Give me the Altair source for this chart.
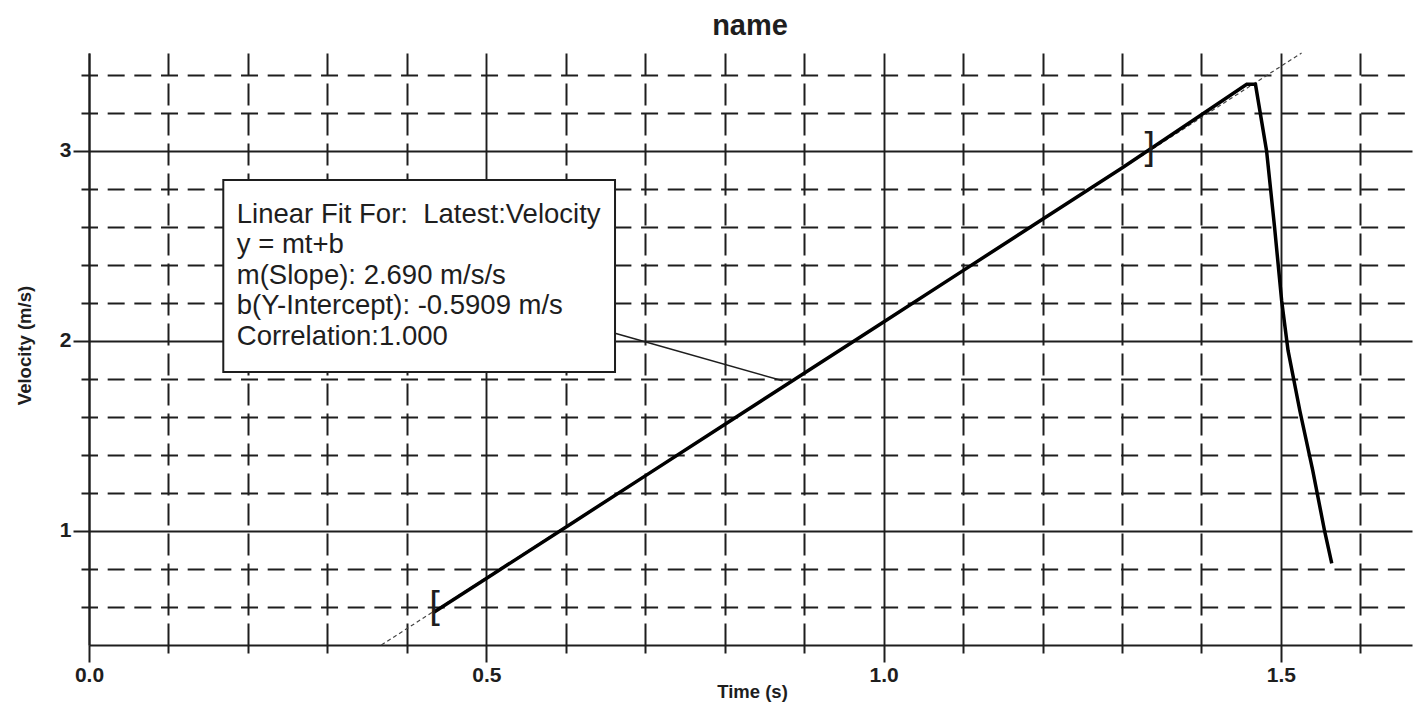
import altair as alt
import pandas as pd

FONT = "Liberation Sans"
INK = "#1e1e1e"

# ---- data ----
major_t = [0.0, 0.5, 1.0, 1.5]
minor_t = [0.1, 0.2, 0.3, 0.4, 0.6, 0.7, 0.8, 0.9, 1.1, 1.2, 1.3, 1.4, 1.6]
major_v = [1, 2, 3]
minor_v = [0.6, 0.8, 1.2, 1.4, 1.6, 1.8, 2.2, 2.4, 2.6, 2.8, 3.2, 3.4]

vel_t = [0.433, 0.5, 0.6, 0.7, 0.8, 0.9, 1.0, 1.1, 1.2, 1.3, 1.4, 1.457, 1.468,
         1.482, 1.492, 1.501, 1.509, 1.524, 1.540, 1.555, 1.564]
vel_v = [0.57, 0.75, 1.02, 1.29, 1.56, 1.83, 2.10, 2.37, 2.64, 2.91, 3.19, 3.35, 3.35,
         3.00, 2.60, 2.21, 1.95, 1.63, 1.32, 1.00, 0.83]

fit_t = [0.368, 1.526]
fit_v = [0.40, 3.515]

bracket_t = [0.435, 1.335]
bracket_v = [0.60, 3.015]
bracket_sym = ["[", "]"]

chart_title = "name"
fit_lines = [
    "Linear Fit For:\u00a0 Latest:Velocity",
    "y = mt+b",
    "m(Slope): 2.690 m/s/s",
    "b(Y-Intercept): -0.5909 m/s",
    "Correlation:1.000",
]

vel_df = pd.DataFrame({"t": vel_t, "v": vel_v})
fit_df = pd.DataFrame({"t": fit_t, "v": fit_v})
br_df = pd.DataFrame({"t": bracket_t, "v": bracket_v, "s": bracket_sym})
one = pd.DataFrame({"k": [0]})

W, H = 1323, 592
xs = alt.Scale(domain=[0, 1.665], nice=False, zero=False)
ys = alt.Scale(domain=[0.4, 3.515], nice=False, zero=False)

minor_x = alt.Axis(orient="bottom", values=minor_t, grid=True, gridDash=[22, 8],
                   gridColor=INK, gridWidth=2, ticks=True, tickSize=8, tickColor=INK,
                   tickWidth=2, labels=False, domain=False)
major_x = alt.Axis(orient="bottom", values=major_t, grid=True, gridColor=INK, gridWidth=1.9,
                   ticks=True, tickSize=17, tickColor=INK, tickWidth=2, labels=True,
                   labelFlush=False, format=".1f", labelFont=FONT, labelFontSize=21,
                   labelFontWeight="bold", labelColor=INK, labelPadding=2, domain=True,
                   domainColor=INK, domainWidth=2, titleFont=FONT, titleFontSize=18.5,
                   titleFontWeight="bold", titleColor=INK, titleX=663, titleY=46,
                   titleAlign="center", titleBaseline="middle")
minor_y = alt.Axis(orient="left", values=minor_v, grid=True, gridDash=[17, 9.67],
                   gridDashOffset=8.5, gridColor=INK, gridWidth=2, ticks=True, tickSize=8,
                   tickColor=INK, tickWidth=2, labels=False, domain=False)
major_y = alt.Axis(orient="left", values=major_v, grid=True, gridColor=INK, gridWidth=1.9,
                   ticks=True, tickSize=16, tickColor=INK, tickWidth=2, labels=True,
                   labelFlush=False, format="d", labelFont=FONT, labelFontSize=21,
                   labelFontWeight="bold", labelColor=INK, labelPadding=2, domain=True,
                   domainColor=INK, domainWidth=2, titleFont=FONT, titleFontSize=18.5,
                   titleFontWeight="bold", titleColor=INK, titleX=-65, titleY=292,
                   titleAngle=270, titleAlign="center", titleBaseline="middle")

fit = alt.Chart(fit_df).mark_line(color="#444", strokeWidth=1.2, strokeDash=[4, 3]).encode(
    x=alt.X("t:Q", scale=xs, axis=minor_x, title=None),
    y=alt.Y("v:Q", scale=ys, axis=minor_y, title=None),
)

vel = alt.Chart(vel_df).mark_line(color="black", strokeWidth=3.5).encode(
    x=alt.X("t:Q", scale=xs, axis=major_x, title="Time (s)"),
    y=alt.Y("v:Q", scale=ys, axis=major_y, title="Velocity (m/s)"),
)

connector = alt.Chart(one).mark_rule(color=INK, strokeWidth=1.6).encode(
    x=alt.XDatum(0.662, scale=xs, axis=None),
    x2=alt.X2Datum(0.873),
    y=alt.YDatum(2.04, scale=ys, axis=None),
    y2=alt.Y2Datum(1.79),
)

box = alt.Chart(one).mark_rect(fill="white", stroke=INK, strokeWidth=2).encode(
    x=alt.XDatum(0.169, scale=xs, axis=None),
    x2=alt.X2Datum(0.662),
    y=alt.YDatum(2.847, scale=ys, axis=None),
    y2=alt.Y2Datum(1.837),
)

box_text = alt.Chart(one).mark_text(
    align="left", baseline="alphabetic", font=FONT, fontSize=27.5, lineHeight=30.5,
    color=INK, text=fit_lines,
).encode(
    x=alt.XDatum(0.186, scale=xs, axis=None),
    y=alt.YDatum(2.621, scale=ys, axis=None),
)

brackets = alt.Chart(br_df).mark_text(
    font=FONT, fontSize=38, color=INK, align="center", baseline="middle",
).encode(
    x=alt.X("t:Q", scale=xs, axis=None),
    y=alt.Y("v:Q", scale=ys, axis=None),
    text="s:N",
)

title_mark = alt.Chart(one).mark_text(
    font=FONT, fontSize=29, fontWeight="bold", color=INK, align="center",
    baseline="alphabetic", text=chart_title,
).encode(x=alt.value(661), y=alt.value(-18.5))

chart = alt.layer(fit, vel, connector, box, box_text, brackets, title_mark).resolve_axis(
    x="independent", y="independent"
).properties(
    width=W,
    height=H,
    autosize=alt.AutoSizeParams(type="none"),
    padding={"left": 81, "top": 45, "right": 4, "bottom": 58},
).configure_view(strokeWidth=0)

chart.save("out.html", embed_options={"renderer": "svg", "actions": False})
